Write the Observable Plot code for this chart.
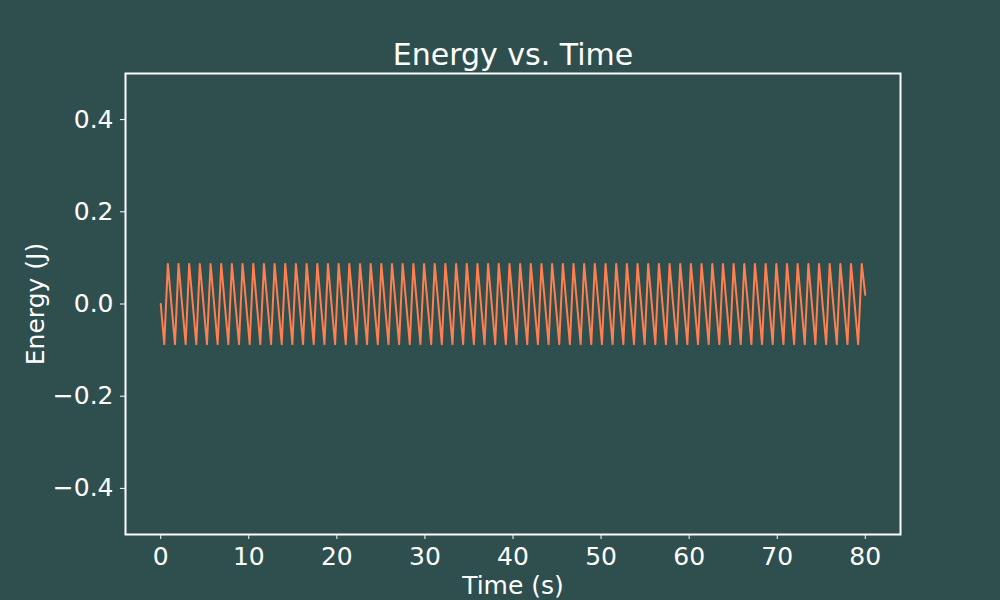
<!DOCTYPE html>
<html><head><meta charset="utf-8">
<script src="https://cdn.jsdelivr.net/npm/d3@7"></script>
<script src="https://cdn.jsdelivr.net/npm/@observablehq/plot@0.6"></script>
<style>html,body{margin:0;padding:0;background:#2F4F4F;overflow:hidden;}</style>
</head><body><div id="chart"></div>
<script>
const time = [
0.00,0.40,0.81,1.21,1.62,2.02,2.42,2.83,3.23,3.64,4.04,4.44,4.85,5.25,5.66,6.06,6.46,6.87,7.27,7.68,
8.08,8.48,8.89,9.29,9.70,10.10,10.51,10.91,11.31,11.72,12.12,12.53,12.93,13.33,13.74,14.14,14.55,14.95,15.35,15.76,
16.16,16.57,16.97,17.37,17.78,18.18,18.59,18.99,19.39,19.80,20.20,20.61,21.01,21.41,21.82,22.22,22.63,23.03,23.43,23.84,
24.24,24.65,25.05,25.45,25.86,26.26,26.67,27.07,27.47,27.88,28.28,28.69,29.09,29.49,29.90,30.30,30.71,31.11,31.52,31.92,
32.32,32.73,33.13,33.54,33.94,34.34,34.75,35.15,35.56,35.96,36.36,36.77,37.17,37.58,37.98,38.38,38.79,39.19,39.60,40.00,
40.40,40.81,41.21,41.62,42.02,42.42,42.83,43.23,43.64,44.04,44.44,44.85,45.25,45.66,46.06,46.46,46.87,47.27,47.68,48.08,
48.48,48.89,49.29,49.70,50.10,50.51,50.91,51.31,51.72,52.12,52.53,52.93,53.33,53.74,54.14,54.55,54.95,55.35,55.76,56.16,
56.57,56.97,57.37,57.78,58.18,58.59,58.99,59.39,59.80,60.20,60.61,61.01,61.41,61.82,62.22,62.63,63.03,63.43,63.84,64.24,
64.65,65.05,65.45,65.86,66.26,66.67,67.07,67.47,67.88,68.28,68.69,69.09,69.49,69.90,70.30,70.71,71.11,71.52,71.92,72.32,
72.73,73.13,73.54,73.94,74.34,74.75,75.15,75.56,75.96,76.36,76.77,77.17,77.58,77.98,78.38,78.79,79.19,79.60,80.00
];
const energy = [
0,-0.087,0.087, 0,-0.087,0.087, 0,-0.087,0.087, 0,-0.087,0.087, 0,-0.087,0.087, 0,-0.087,0.087,
0,-0.087,0.087, 0,-0.087,0.087, 0,-0.087,0.087, 0,-0.087,0.087, 0,-0.087,0.087, 0,-0.087,0.087,
0,-0.087,0.087, 0,-0.087,0.087, 0,-0.087,0.087, 0,-0.087,0.087, 0,-0.087,0.087, 0,-0.087,0.087,
0,-0.087,0.087, 0,-0.087,0.087, 0,-0.087,0.087, 0,-0.087,0.087, 0,-0.087,0.087, 0,-0.087,0.087,
0,-0.087,0.087, 0,-0.087,0.087, 0,-0.087,0.087, 0,-0.087,0.087, 0,-0.087,0.087, 0,-0.087,0.087,
0,-0.087,0.087, 0,-0.087,0.087, 0,-0.087,0.087, 0,-0.087,0.087, 0,-0.087,0.087, 0,-0.087,0.087,
0,-0.087,0.087, 0,-0.087,0.087, 0,-0.087,0.087, 0,-0.087,0.087, 0,-0.087,0.087, 0,-0.087,0.087,
0,-0.087,0.087, 0,-0.087,0.087, 0,-0.087,0.087, 0,-0.087,0.087, 0,-0.087,0.087, 0,-0.087,0.087,
0,-0.087,0.087, 0,-0.087,0.087, 0,-0.087,0.087, 0,-0.087,0.087, 0,-0.087,0.087, 0,-0.087,0.087,
0,-0.087,0.087, 0,-0.087,0.087, 0,-0.087,0.087, 0,-0.087,0.087, 0,-0.087,0.087, 0,-0.087,0.087,
0,-0.087,0.087, 0,-0.087,0.087, 0,-0.087,0.087, 0,-0.087,0.087, 0,-0.087,0.087, 0,-0.087,0.087,
0.02
];
const xTicks = [0, 10, 20, 30, 40, 50, 60, 70, 80];
const yTicks = [-0.4, -0.2, 0, 0.2, 0.4];
const titleText = "Energy vs. Time";
const xLabel = "Time (s)";
const yLabel = "Energy (J)";

const data = time.map((t, i) => ({t, e: energy[i]}));

const chart = Plot.plot({
  width: 1000, height: 600,
  marginLeft: 125, marginRight: 100, marginTop: 73, marginBottom: 66,
  style: {background: "#2F4F4F", color: "white", fontFamily: "'DejaVu Sans', sans-serif", fontSize: "25px"},
  x: {domain: [-4, 84]},
  y: {domain: [-0.5, 0.5]},
  marks: [
    Plot.line(data, {x: "t", y: "e", stroke: "#FF7F50", strokeWidth: 2}),
    Plot.frame({stroke: "white", strokeWidth: 2}),
    Plot.axisX({ticks: xTicks, tickSize: 5, tickPadding: 8, fontSize: 25, label: null, tickFormat: d => String(d)}),
    Plot.axisY({ticks: yTicks, tickSize: 5, tickPadding: 7, fontSize: 25, label: null, tickFormat: d3.format(".1f")}),
    Plot.text([titleText], {text: d => d, frameAnchor: "top", lineAnchor: "bottom", textAnchor: "middle", dy: -9, fontSize: 30, fill: "white"}),
    Plot.text([xLabel], {text: d => d, frameAnchor: "bottom", lineAnchor: "bottom", textAnchor: "middle", dy: 59, fontSize: 25, fill: "white"}),
    Plot.text([yLabel], {text: d => d, frameAnchor: "left", lineAnchor: "middle", textAnchor: "middle", dx: -90, rotate: -90, fontSize: 25, fill: "white"})
  ]
});
document.getElementById("chart").appendChild(chart);
</script>
</body></html>
